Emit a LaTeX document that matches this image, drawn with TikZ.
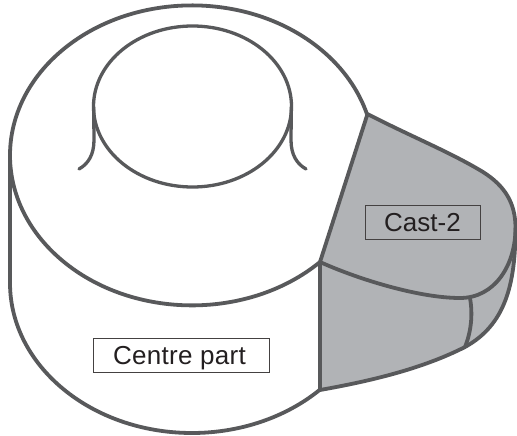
\documentclass[tikz,border=0pt]{standalone}
\usepackage{fontspec}
\setmainfont{Liberation Sans}
\definecolor{edgegrey}{HTML}{58595B}
\definecolor{castgrey}{HTML}{B1B3B6}
\definecolor{inkgrey}{HTML}{231F20}
\tikzset{
  outline/.style={draw=edgegrey,line width=3.8pt,line join=round,line cap=round},
  thin outline/.style={draw=edgegrey,line width=3.3pt,line join=round,line cap=round},
  partlabel/.style={draw=inkgrey!85!white,line width=0.9pt,text=inkgrey,font=\fontsize{26}{28}\selectfont,inner sep=0pt,anchor=center,text height=19pt,text depth=0pt}
}
\begin{document}
\begin{tikzpicture}[x=1pt,y=-1pt]
\useasboundingbox[fill=white] (0,0) rectangle (517,436);
% corner points shared by the centre part and the cast
\coordinate (topcorner) at (367.5,114);
\coordinate (midcorner) at (320,262);
\coordinate (lowcorner) at (320,390);
\coordinate (rimend) at (515.5,228);
\coordinate (rimjoin) at (470,298);
\coordinate (lowjoin) at (465,347);
% cast body
\path[outline,fill=castgrey] (topcorner)
  .. controls (410,136) and (450,152) .. (483,172)
  .. controls (505,186) and (515.5,203) .. (rimend)
  .. controls (515.5,285) and (505,325) .. (lowjoin)
  .. controls (420,370) and (365,382) .. (lowcorner)
  -- (midcorner) -- cycle;
\path[outline] (midcorner)
  .. controls (360,280) and (420,298) .. (460,298)
  .. controls (495,298) and (515.5,265) .. (rimend);
\path[outline] (rimjoin) .. controls (473,315) and (471,332) .. (lowjoin);
% centre part
\path[outline] (midcorner) arc[start angle=45.3,end angle=344,x radius=182,y radius=150];
\path[outline] (10,155) -- (10,283) arc[start angle=180,end angle=45.3,x radius=182,y radius=150];
\path[thin outline] (192.5,106.5) ellipse[x radius=99,y radius=80.5];
\path[thin outline] (93.7,107) -- (94,140) .. controls (94,155) and (88,164) .. (79,169);
\path[thin outline] (291.3,107) -- (291,140) .. controls (291,155) and (297,164) .. (306,169);
% labels
\node[partlabel,minimum width=115pt,minimum height=34pt] (cast) at (422.5,222) {Cast-2};
\node[partlabel,fill=white,minimum width=176pt,minimum height=34pt] (centre) at (181,355) {\addfontfeatures{LetterSpace=1.2}Centre part\kern3pt};
\end{tikzpicture}
\end{document}
